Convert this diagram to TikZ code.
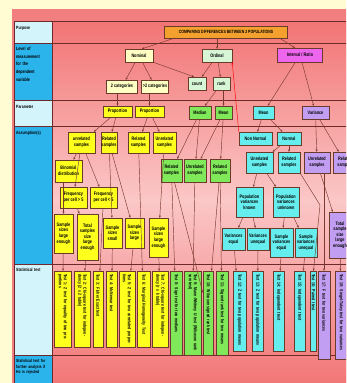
\documentclass[tikz,border=0pt]{standalone}
\usepackage{fontspec}
\newfontfamily\chartfont{Liberation Sans}[FakeStretch=0.76]
\usetikzlibrary{arrows.meta}
\definecolor{bandc}{HTML}{FFFBD2}
\definecolor{framec}{HTML}{F27F7F}
\definecolor{lightcell}{HTML}{D4F4FB}
\definecolor{bluecell}{HTML}{2BB3EC}
\definecolor{rowtop}{HTML}{F27474}
\definecolor{rowmid}{HTML}{FBC7C7}
\definecolor{rulec}{HTML}{6E2A2A}
\definecolor{edgec}{HTML}{6A3B2B}
\definecolor{linec}{HTML}{7A3A30}
\definecolor{orangec}{HTML}{F4A02E}
\definecolor{paleyc}{HTML}{FFFFC4}
\definecolor{mintc}{HTML}{D6F6D6}
\definecolor{magc}{HTML}{EE66EE}
\definecolor{yellowc}{HTML}{FFFF1E}
\definecolor{greenc}{HTML}{7FE95A}
\definecolor{cyanc}{HTML}{66EEEE}
\definecolor{purplec}{HTML}{C29EF2}

\begin{document}
\begin{tikzpicture}[x=1pt,y=-1pt,
    box/.style={draw=edgec,line width=0.4pt,inner sep=0.6pt,align=center,
      font=\chartfont\bfseries\fontsize{5}{5.6}\selectfont},
    sz/.style 2 args={minimum width=#1pt,minimum height=#2pt},
    testbox/.style={box,rotate=-90,align=left,inner sep=1pt,
      font=\chartfont\bfseries\fontsize{4.6}{5}\selectfont},
    ytest/.style={testbox,fill=yellowc,minimum width=76pt,text width=70pt},
    gtest/.style={testbox,fill=greenc,minimum width=84pt,text width=78pt},
    ctest/.style={testbox,fill=cyanc,minimum width=80pt,text width=74pt},
    ptest/.style={testbox,fill=purplec,minimum width=88pt,text width=82pt},
    arr/.style={draw=linec,line width=0.45pt,-{Stealth[length=2.4pt,width=2pt]}},
    rowlabel/.style={anchor=north west,align=left,text width=37pt,inner sep=1pt,
      font=\chartfont\bfseries\fontsize{4.6}{6.2}\selectfont}]
    \useasboundingbox (0,0) rectangle (346,383);
    \clip (0,0) rectangle (346,383);
    \fill[bandc] (0,0) rectangle (346,383);
    \fill[framec] (12,9) rectangle (352,390);
    \shade[top color=rowtop,bottom color=rowmid] (52,21) rectangle (352,200);
    \shade[top color=rowmid,bottom color=rowtop] (52,200) rectangle (352,390);
    \foreach \ya/\yb/\c in {21/43/lightcell,43/100/bluecell,100/126/lightcell,
      126/264/bluecell,264/355/lightcell,355/390/bluecell}
      \fill[\c] (14,\ya) rectangle (52,\yb);
    \foreach \yr in {21,43,100,126,264,355}
      \draw[rulec,line width=0.6pt] (14,\yr) -- (352,\yr);
    \draw[rulec,line width=0.6pt] (14,21) -- (14,390) (52,21) -- (52,390);

    % row labels
    \node[rowlabel] (lpur) at (15,25) {Purpose};
    \node[rowlabel,font=\chartfont\bfseries\fontsize{4.8}{7.6}\selectfont] (llev) at (15,46) {Level of\\measurement\\for the\\dependent\\variable};
    \node[rowlabel] (lpar) at (15,104) {Parameter};
    \node[rowlabel] (lass) at (15,130) {Assumption(s)};
    \node[rowlabel] (ltst) at (15,267) {Statistical test};
    \node[rowlabel,font=\chartfont\bfseries\fontsize{4.4}{5.8}\selectfont] (lfur) at (15,358) {Statistical test for\\further analysis if\\Ho is rejected};

    % purpose, level and parameter
    \node[box,fill=orangec,sz={123}{12},font=\chartfont\bfseries\fontsize{4.6}{5}\selectfont] (cmp) at (226,32) {COMPARING DIFFERENCES BETWEEN 2 POPULATIONS};
    \node[box,fill=paleyc,sz={28}{13}] (nom) at (139,55.5) {Nominal};
    \node[box,fill=mintc,sz={30}{13}] (ord) at (217,55.5) {Ordinal};
    \node[box,fill=magc,sz={45}{14}] (intr) at (300,55) {Interval / Ratio};
    \node[box,fill=paleyc,sz={31}{13}] (cat2) at (122,86.5) {2 categories};
    \node[box,fill=paleyc,sz={27}{13}] (catm) at (155,86.5) {>2 categories};
    \node[box,fill=mintc,sz={18}{13}] (cnt) at (197,83.5) {count};
    \node[box,fill=mintc,sz={17}{13}] (rnk) at (221.5,83.5) {rank};
    \node[box,fill=yellowc,sz={29}{11}] (prop1) at (117.5,111.5) {Proportion};
    \node[box,fill=yellowc,sz={29}{11}] (prop2) at (149.5,111.5) {Proportion};
    \node[box,fill=greenc,sz={22}{13}] (med) at (200,112.5) {Median};
    \node[box,fill=greenc,sz={17}{13}] (mng) at (223.5,112.5) {Mean};
    \node[box,fill=cyanc,sz={21}{13}] (mnc) at (263.5,112.5) {Mean};
    \node[box,fill=purplec,sz={27}{13}] (var) at (315.5,112.5) {Variance};

    % assumptions
    \node[box,fill=yellowc,sz={27}{21}] (ya1) at (81.5,142.5) {unrelated\\samples};
    \node[box,fill=yellowc,sz={16}{21}] (ya2) at (109,142.5) {Related\\samples};
    \node[box,fill=yellowc,sz={21}{21}] (ya3) at (138.5,142.5) {Related\\samples};
    \node[box,fill=yellowc,sz={23}{21}] (ya4) at (164.5,142.5) {Unrelated\\samples};
    \node[box,fill=yellowc,sz={27}{22}] (bin) at (68.5,171) {Binomial\\distribution};
    \node[box,fill=yellowc,sz={27}{21}] (fq1) at (73.5,197.5) {Frequency\\per cell > 5};
    \node[box,fill=yellowc,sz={27}{21}] (fq2) at (103.5,197.5) {Frequency\\per cell < 5};
    \node[box,fill=yellowc,sz={19}{39}] (ss1) at (63.5,233.5) {Sample\\sizes\\large\\enough};
    \node[box,fill=yellowc,sz={21}{46}] (ts1) at (87.5,237) {Total\\samples\\size\\large\\enough};
    \node[box,fill=yellowc,sz={19}{30}] (ss2) at (112.5,233) {Sample\\sizes\\small};
    \node[box,fill=yellowc,sz={19}{30}] (ss3) at (134.5,233) {Sample\\sizes\\large};
    \node[box,fill=yellowc,sz={19}{39}] (ss4) at (158.5,237.5) {Sample\\sizes\\large\\enough};
    \node[box,fill=greenc,sz={21}{23}] (ga1) at (171.5,170.5) {Related\\samples};
    \node[box,fill=greenc,sz={22}{23}] (ga2) at (195,170.5) {Unrelated\\samples};
    \node[box,fill=greenc,sz={20}{23}] (ga3) at (220,170.5) {Related\\samples};
    \node[box,fill=cyanc,sz={33}{13}] (nn) at (255.5,138.5) {Non Normal};
    \node[box,fill=cyanc,sz={24}{13}] (nrm) at (289,138.5) {Normal};
    \node[box,fill=cyanc,sz={27}{21}] (ca1) at (259.5,162.5) {Unrelated\\samples};
    \node[box,fill=cyanc,sz={22}{21}] (ca2) at (289,162.5) {Related\\samples};
    \node[box,fill=cyanc,sz={27}{30}] (pk) at (249.5,202) {Population\\variances\\known};
    \node[box,fill=cyanc,sz={26}{30}] (pu) at (286,202) {Population\\variances\\unknown};
    \node[box,fill=cyanc,sz={23}{22}] (ve) at (233.5,239) {Variances\\equal};
    \node[box,fill=cyanc,sz={22}{22}] (vu) at (258,239) {Variances\\unequal};
    \node[box,fill=cyanc,sz={23}{29}] (sve) at (281.5,242.5) {Sample\\variances\\equal};
    \node[box,fill=cyanc,sz={22}{29}] (svu) at (306,242.5) {Sample\\variances\\unequal};
    \node[box,fill=purplec,sz={26}{21}] (pa1) at (317,162.5) {Unrelated\\samples};
    \node[box,fill=purplec,sz={24}{21}] (pa2) at (345,162.5) {Related\\samples};
    \node[box,fill=purplec,sz={22}{46}] (pts) at (340,235) {Total\\sample\\size\\large\\enough};

    % statistical tests
    \node[ytest,minimum height=17pt] (t1) at (62.5,309) {Test 1: Z test for equality of two proportions};
    \node[ytest,minimum height=16pt] (t2) at (82,309) {Test 2: Chi-square test for independency (2 x 2 table)};
    \node[ytest,minimum height=10pt] (t3) at (98,309) {Test 3: Fisher Exact test};
    \node[ytest,minimum height=11pt] (t4) at (111.5,309) {Test 4: McNemar test};
    \node[ytest,minimum height=16pt] (t5) at (127,309) {Test 5: Z test for two correlated proportions};
    \node[ytest,minimum height=13pt] (t6) at (143.5,309) {Test 6: Marginal Homogeneity Test};
    \node[ytest,minimum height=16pt] (t7) at (160,309) {Test 7: Chi-square test for independency (r x k table)};
    \node[gtest,minimum height=12pt] (t8) at (176,313) {Test 8: Sign test for two medians};
    \node[gtest,minimum height=17pt] (t9) at (192.5,313) {Test 9: Mann-Whitney U test (Wilcoxon rank sum test)};
    \node[gtest,minimum height=10pt] (t10) at (208,313) {Test 10: Wilcoxon signed rank test};
    \node[gtest,minimum height=12pt] (t11) at (222,313) {Test 11: Signed rank test for two means};
    \node[ctest,minimum height=13pt] (t12) at (239.5,311) {Test 12: Z test for two population means};
    \node[ctest,minimum height=11pt] (t13) at (257.5,311) {Test 13: Z test for two population means};
    \node[ctest,minimum height=11pt] (t14) at (278.5,311) {Test 14: Independent t test};
    \node[ctest,minimum height=11pt] (t15) at (299.5,311) {Test 15: Independent t test};
    \node[ctest,minimum height=6pt] (t16) at (313.5,311) {Test 16: Paired t test};
    \node[ptest,minimum height=12pt] (t17) at (324,315) {Test 17: F test for two variances};
    \node[ptest,minimum height=12pt] (t18) at (341,315) {Test 18: Siegel-Tukey test for two variances};

    % connectors
    \draw[arr] ([xshift=10pt]cmp.south west) -- ([xshift=3pt]nom.north);
    \draw[arr] (cmp.south -| ord.north) -- (ord.north);
    \draw[arr] ([xshift=-8pt]cmp.south east) -- ([xshift=-5pt]intr.north);
    \draw[arr] (nom) -- (cat2);
    \draw[arr] (nom) -- (catm);
    \draw[arr] (nom.south east) -- ([xshift=-3pt]cnt.north);
    \draw[arr] (ord) -- (cnt);
    \draw[arr] (ord) -- (rnk);
    \draw[arr] (intr) -- (mnc);
    \draw[arr] (intr) -- (var);
    \draw[arr] (prop1 |- cat2.south) -- (prop1);
    \draw[arr] (prop2 |- catm.south) -- (prop2);
    \draw[arr] (rnk) -- (med);
    \draw[arr] (mng |- rnk.south) -- (mng);
    \draw[arr,draw=red] (nn.north west) -- (ord.south east);
    \draw[arr] (mnc) -- (nn);
    \draw[arr] (mnc) -- (nrm);
    \draw[arr] (var) -- (pa1);
    \draw[arr] (var) -- (pa2);
    \draw[arr] (prop1) -- (ya1);
    \draw[arr] (prop1) -- (ya2);
    \draw[arr] (prop2) -- (ya3);
    \draw[arr] (prop2) -- (ya4);
    \draw[arr] (med) -- (ga1);
    \draw[arr] (med) -- (ga2);
    \draw[arr] (mng) -- (ga2);
    \draw[arr] (mng) -- (ga3);
    \draw[arr] (nrm) -- (ca1);
    \draw[arr] (nrm) -- (ca2);
    \draw[arr] (ya1) -- (bin);
    \draw[arr] (ya1) -- (fq1);
    \draw[arr] (ya1) -- (fq2);
    \draw[arr] (ca1) -- (pk);
    \draw[arr] (ca1) -- (pu);
    \draw[arr] (pk) -- (ve);
    \draw[arr] (pk) -- (vu);
    \draw[arr] (pu) -- (sve);
    \draw[arr] (pu) -- (svu);
    \draw[arr] (pa1) -- (pts);
    \draw[arr] (ss1 |- bin.south) -- (ss1);
    \draw[arr] (fq1) -- (ts1);
    \draw[arr] (fq2) -- (t3);
    \draw[arr] (ya2) -- (ss2);
    \draw[arr] (ya2) -- (ss3);
    \draw[arr] (ya3) -- (t6);
    \draw[arr] (ya4) -- (ss4);
    \draw[arr] (ss1) -- (t1);
    \draw[arr] (ts1) -- (t2);
    \draw[arr] (ss2) -- (t4);
    \draw[arr] (ss3) -- (t5);
    \draw[arr] (ss4) -- (t7);
    \draw[arr] (ga1) -- (t8);
    \draw[arr] (ga1) -- (t10);
    \draw[arr] (ga2) -- (t9);
    \draw[arr] (ga3) -- (t10);
    \draw[arr] (ga3) -- (t11);
    \draw[arr] (ve) -- (t12);
    \draw[arr] (vu) -- (t13);
    \draw[arr] (sve) -- (t14);
    \draw[arr] (svu) -- (t15);
    \coordinate (bend) at (320,205);
    \draw[arr] (ca2.south east) -- (bend) -- (t16.west);
    \draw[arr] (t17 |- pa1.south) -- (t17.west);
    \draw[arr] (pts) -- (t18);
\end{tikzpicture}
\end{document}
